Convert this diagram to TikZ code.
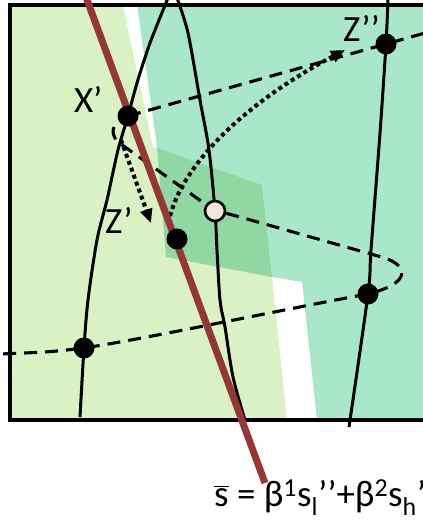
\documentclass[tikz,border=0pt]{standalone}
\usepackage{fontspec}
\setmainfont{Carlito}
\usetikzlibrary{arrows.meta}
\definecolor{lightg}{RGB}{218,241,196}
\definecolor{tealg}{RGB}{170,230,201}
\definecolor{overg}{RGB}{144,215,162}
\definecolor{redl}{RGB}{149,55,53}
\definecolor{openf}{RGB}{236,232,220}
\tikzset{
  curve/.style={line width=3pt, black},
  dashcurve/.style={line width=3.1pt, black, dash pattern=on 13pt off 8pt},
  dotcurve/.style={line width=4pt, black, dash pattern=on 4pt off 3.4pt, -{Triangle[length=14pt,width=12pt]}},
  pt/.style={circle, fill=black, minimum size=21pt, inner sep=0pt},
  openpt/.style={circle, draw=black, line width=2.6pt, fill=openf, minimum size=20pt, inner sep=0pt},
  lbl/.style={font=\fontsize{37}{42}\selectfont, inner sep=0pt}
}
\begin{document}
\begin{tikzpicture}[x=1pt,y=-1pt]
\useasboundingbox (0,0) rectangle (423,520);
% regions
\fill[tealg] (137,5) -- (157,147) -- (166,257) -- (272,277) -- (302,282) -- (317,420) -- (440,420) -- (440,5) -- cycle;
\fill[lightg] (10,5) -- (123,5) -- (153,147) -- (262,185) -- (272,277) -- (287,420) -- (10,420) -- cycle;
\fill[overg] (157,148) -- (262,185) -- (272,277) -- (166,257) -- cycle;
% frame
\draw[line width=3.5pt] (10,5) rectangle (440,420);
% points coordinates
\coordinate (cX) at (128,116);
\coordinate (cZ2) at (386,44);
\coordinate (cZ1) at (177,239);
\coordinate (cO) at (215,211);
\coordinate (cP1) at (84,348);
\coordinate (cP2) at (368,294);
% curves
\draw[curve] plot[smooth, tension=0.5] coordinates {(168,-2) (150,43) (137,83) (cX) (118,150) (107,200) (97,240) (88,300) (cP1) (80,417)};
\draw[curve] plot[smooth, tension=0.5] coordinates {(177,-2) (188,33) (200,100) (209,150) (cO) (217,250) (220,300) (225,327) (233,377) (245,420)};
\draw[curve] plot[smooth, tension=0.5] coordinates {(388,-2) (cZ2) (380,133) (371,250) (cP2) (349,427)};
% dashed curves
\draw[dashcurve] (cX) -- (cZ2) -- (425,33);
\draw[dashcurve] (114,127) .. controls (112,131) and (113,137) .. (118,142) -- (cO)
  .. controls (225,213) .. (240,217) -- (385,258)
  .. controls (408,266) and (412,283) .. (cP2)
  .. controls (290,308) and (150,338) .. (cP1)
  .. controls (50,352) .. (0,354);
% dotted arrows
\draw[dotcurve] (121,140) -- (151,223);
\draw[dotcurve] (170,216) .. controls (185,160) and (250,100) .. (345,50);
% red line
\draw[redl, line width=7pt] (86,-3) -- (265,483);
% points
\node[pt] (X) at (cX) {};
\node[pt] (Z2) at (cZ2) {};
\node[pt] (Z1) at (cZ1) {};
\node[openpt] (O) at (cO) {};
\node[pt] (P1) at (cP1) {};
\node[pt] (P2) at (cP2) {};
% labels
\node[lbl, anchor=base west] (lX) at (74,112) {X’};
\node[lbl, anchor=base west] (lZ1) at (105,233) {Z’};
\node[lbl, anchor=base west] (lZ2) at (343,41) {Z’’};
\node[lbl, anchor=base west] (lS) at (214,506) {$\overline{\hbox{s}}$ = β\textsuperscript{1}s\textsubscript{l}’’+β\textsuperscript{2}s\textsubscript{h}’};
\end{tikzpicture}
\end{document}
